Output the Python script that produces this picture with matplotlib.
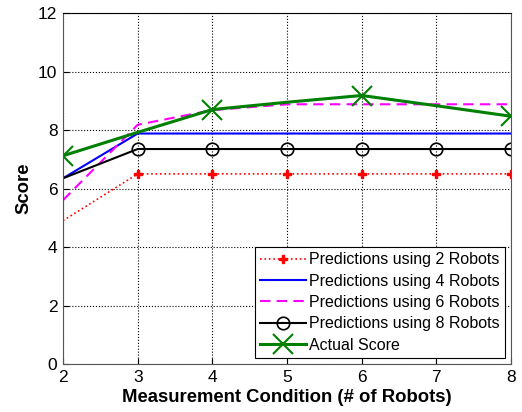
import matplotlib
matplotlib.use("Agg")
import matplotlib.pyplot as plt

plt.rcParams["font.family"] = ["Liberation Sans", "DejaVu Sans"]

conditions = [2, 3, 4, 5, 6, 7, 8]
pred_2 = [4.9, 6.5, 6.5, 6.5, 6.5, 6.5, 6.5]
pred_4 = [6.35, 7.88, 7.88, 7.88, 7.88, 7.88, 7.88]
pred_6 = [5.6, 8.18, 8.68, 8.88, 8.88, 8.88, 8.88]
pred_8 = [6.35, 7.35, 7.35, 7.35, 7.35, 7.35, 7.35]
actual = [7.12, 7.92, 8.7, 8.95, 9.18, 8.83, 8.47]

fig = plt.figure(figsize=(5.22, 4.12), dpi=100)
ax = fig.add_axes([0.1207, 0.1165, 0.8583, 0.8519])

# markers are only drawn at some conditions in the original
ax.plot(conditions, pred_2, color="red", linestyle=":", linewidth=1.2,
        marker="P", markersize=6, markevery=[1, 2, 3, 4, 5, 6],
        label="Predictions using 2 Robots")
ax.plot(conditions, pred_4, color="blue", linestyle="-", linewidth=1.5,
        label="Predictions using 4 Robots")
ax.plot(conditions, pred_6, color="magenta", linestyle="--", linewidth=1.5,
        dashes=(5, 3), label="Predictions using 6 Robots")
ax.plot(conditions, pred_8, color="black", linestyle="-", linewidth=1.5,
        marker="o", markersize=9, markerfacecolor="none", markeredgewidth=1.2,
        markevery=[1, 2, 3, 4, 5, 6], label="Predictions using 8 Robots")
ax.plot(conditions, actual, color="green", linestyle="-", linewidth=2.2,
        marker="x", markersize=14, markeredgewidth=1.5, markevery=[0, 2, 4, 6],
        label="Actual Score")

ax.set_xlim(2, 8)
ax.set_ylim(0, 12)
ax.set_xticks(conditions)
ax.set_yticks([0, 2, 4, 6, 8, 10, 12])
ax.grid(True, color="black", linestyle=":", linewidth=0.8)
ax.tick_params(direction="in", labelsize=12.5, length=4, pad=4)
for s in ax.spines.values():
    s.set_color("#555555")
ax.spines["top"].set_color("black")

ax.set_xlabel("Measurement Condition (# of Robots)", fontsize=13.3, fontweight="bold", labelpad=3)
ax.set_ylabel("Score", fontsize=13.3, fontweight="bold", labelpad=4)

leg = ax.legend(loc="lower right", fontsize=11.5, frameon=True, fancybox=False,
                edgecolor="black", framealpha=1, borderpad=0.3, labelspacing=0.4,
                handlelength=2.9, handletextpad=0.2, borderaxespad=0.4)
leg.get_frame().set_linewidth(0.8)

fig.savefig("out.png", dpi=100)
